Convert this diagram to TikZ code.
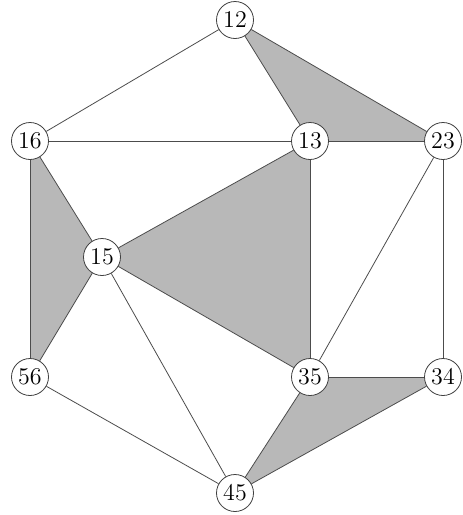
\documentclass[tikz,border=0pt]{standalone}
\usetikzlibrary{backgrounds}

\begin{document}
\begin{tikzpicture}[x=0.5pt,y=-0.5pt,every node/.style={font=\large},
 vtx/.style={draw=black!75,circle,fill=white,minimum size=18.5pt,inner sep=0pt,line width=0.4pt},
 edge/.style={draw=black!70,line width=0.4pt},
 face/.style={fill=black!28}]
\useasboundingbox (0,0) rectangle (462,515);
\node[vtx] (v12) at (235,20) {12};
\node[vtx] (v16) at (30,141) {16};
\node[vtx] (v13) at (310,141) {13};
\node[vtx] (v23) at (443,141) {23};
\node[vtx] (v15) at (102,257) {15};
\node[vtx] (v56) at (30,377) {56};
\node[vtx] (v35) at (310,377) {35};
\node[vtx] (v34) at (443,377) {34};
\node[vtx] (v45) at (235,493) {45};
% shaded triangles
\begin{scope}[on background layer]
\fill[face] (v12.center)--(v13.center)--(v23.center)--cycle;
\fill[face] (v16.center)--(v15.center)--(v56.center)--cycle;
\fill[face] (v15.center)--(v13.center)--(v35.center)--cycle;
\fill[face] (v35.center)--(v34.center)--(v45.center)--cycle;
\end{scope}
\foreach \a/\b in {12/16,12/13,12/23,16/13,13/23,16/15,16/56,15/13,15/35,15/56,15/45,13/35,23/35,23/34,35/34,35/45,34/45,56/45}
 \draw[edge] (v\a)--(v\b);
\end{tikzpicture}
\end{document}
